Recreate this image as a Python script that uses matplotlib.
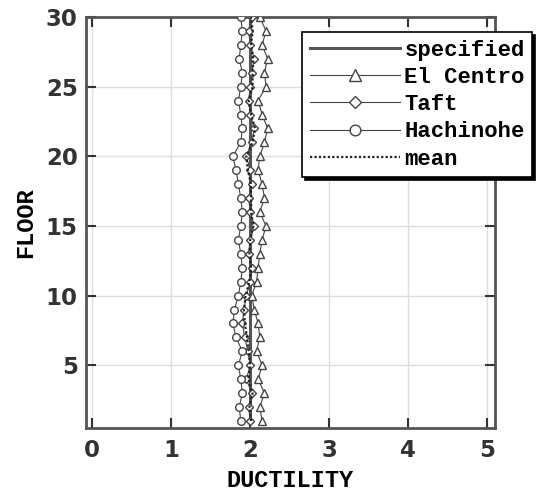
"""Floor-wise ductility demand for three records against the specified value."""

import matplotlib

matplotlib.use("Agg")
import matplotlib.pyplot as plt

floors = list(range(1, 31))
specified = [2.0] * 30
el_centro = [2.15, 2.12, 2.18, 2.10, 2.15, 2.08, 2.12, 2.10, 2.05, 2.02,
             2.08, 2.10, 2.12, 2.15, 2.20, 2.12, 2.18, 2.15, 2.10, 2.12,
             2.18, 2.22, 2.15, 2.10, 2.20, 2.18, 2.22, 2.15, 2.20, 2.12]
taft = [2.00, 1.98, 2.02, 1.95, 2.00, 1.97, 1.93, 1.90, 1.92, 1.95,
        2.00, 2.02, 1.98, 2.00, 2.05, 2.00, 1.98, 2.02, 2.00, 1.95,
        2.02, 2.05, 2.00, 1.98, 2.00, 2.02, 2.05, 2.00, 1.98, 2.02]
hachinohe = [1.88, 1.86, 1.90, 1.88, 1.85, 1.90, 1.82, 1.78, 1.80, 1.85,
             1.88, 1.90, 1.88, 1.85, 1.88, 1.90, 1.88, 1.85, 1.82, 1.78,
             1.88, 1.90, 1.88, 1.85, 1.88, 1.90, 1.86, 1.88, 1.90, 1.88]
mean = [2.01, 1.99, 2.03, 1.98, 2.00, 1.98, 1.96, 1.93, 1.92, 1.94,
        1.99, 2.01, 1.99, 2.00, 2.04, 2.01, 2.01, 2.01, 1.97, 1.95,
        2.03, 2.06, 2.01, 1.98, 2.03, 2.03, 2.04, 2.01, 2.03, 2.01]

x_ticks = [0, 1, 2, 3, 4, 5]
y_ticks = [5, 10, 15, 20, 25, 30]

mono = "Liberation Mono"
fig = plt.figure(figsize=(5.39, 4.95), dpi=100)
ax = fig.add_axes([0.1596, 0.1354, 0.7588, 0.8303])

ax.plot(specified, floors, color="#555555", lw=2.2, label="specified", zorder=3)
ax.plot(el_centro, floors, color="#444444", lw=0.8, marker="^", ms=6,
        mfc="white", mec="#444444", mew=1.0, label="El Centro", zorder=4)
ax.plot(taft, floors, color="#444444", lw=0.8, marker="D", ms=4.5,
        mfc="white", mec="#444444", mew=1.0, label="Taft", zorder=4)
ax.plot(hachinohe, floors, color="#444444", lw=0.8, marker="o", ms=5.5,
        mfc="white", mec="#444444", mew=1.0, label="Hachinohe", zorder=4)
ax.plot(mean, floors, color="#222222", lw=1.6, ls=(0, (1, 1)),
        label="mean", zorder=5)

ax.set_xlim(-0.08, 5.1)
ax.set_ylim(0.5, 30)
ax.set_xticks(x_ticks)
ax.set_yticks(y_ticks)
ax.grid(True, color="#dddddd", lw=1.0)
ax.set_axisbelow(True)
ax.tick_params(direction="in", length=7, width=1.5, top=True, right=True,
               labelsize=16.5, color="#333333")
ax.tick_params(axis="x", pad=8)
ax.tick_params(axis="y", pad=6)
for label in ax.get_xticklabels() + ax.get_yticklabels():
    label.set_fontweight("bold")
    label.set_color("#333333")
for spine in ax.spines.values():
    spine.set_linewidth(2.0)
    spine.set_color("#555555")

ax.set_xlabel("DUCTILITY", fontfamily=mono, fontweight="bold", fontsize=17, labelpad=5)
ax.set_ylabel("FLOOR", fontfamily=mono, fontweight="bold", fontsize=17, labelpad=6)

leg = ax.legend(loc="upper left", bbox_to_anchor=(302 / 539, 1 - 32 / 495),
                bbox_transform=fig.transFigure, prop={"family": mono, "weight": "bold", "size": 16},
                frameon=True, fancybox=False, shadow={"color": "black", "alpha": 1.0},
                handlelength=4.05, handletextpad=0.2, labelspacing=0.28, borderpad=0.35,
                borderaxespad=0, markerscale=1.4)
leg.get_frame().set_edgecolor("black")
leg.get_frame().set_linewidth(1.2)

fig.savefig("out.png", dpi=100)
